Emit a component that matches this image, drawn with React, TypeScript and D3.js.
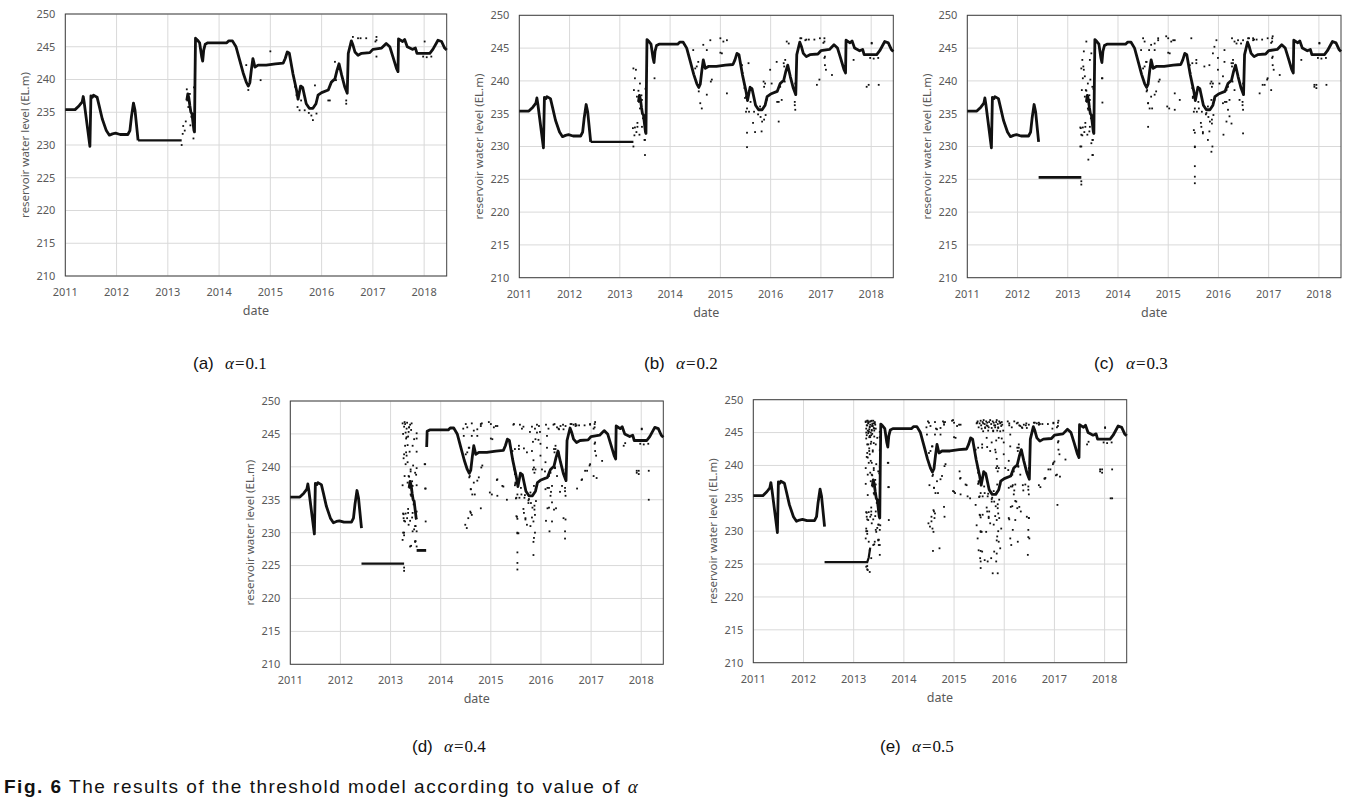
import React from 'react';
import * as d3 from 'd3';

type Pt = [number, number];

// ---------- axis ticks ----------
const yearTicks = [2011, 2012, 2013, 2014, 2015, 2016, 2017, 2018];
const levelTicks = [210, 215, 220, 225, 230, 235, 240, 245, 250];
const yearDomain: [number, number] = [2011, 2018.44];
const levelDomain: [number, number] = [210, 250];

// ---------- reservoir water level (shared trace) ----------
const earlyTrace: Pt[] = [
  [2011.0, 235.4], [2011.19, 235.4], [2011.27, 236.0], [2011.33, 236.6], [2011.35, 237.4],
  [2011.37, 236.4], [2011.48, 229.8], [2011.5, 237.5], [2011.53, 237.3], [2011.55, 237.6],
  [2011.62, 237.3], [2011.66, 236.0], [2011.72, 234.0], [2011.8, 232.2], [2011.86, 231.5],
  [2011.92, 231.7], [2011.98, 231.8], [2012.07, 231.6], [2012.22, 231.6], [2012.26, 232.2],
  [2012.29, 234.3], [2012.33, 236.4], [2012.36, 235.3], [2012.42, 230.7],
];
const flatHigh: Pt[] = [[2012.42, 230.7], [2013.27, 230.7]];
const flatLow: Pt[] = [[2012.42, 225.3], [2013.27, 225.3]];
const flatLowRise: Pt[] = [[2012.42, 225.3], [2013.27, 225.3], [2013.3, 226.0], [2013.33, 227.5]];
const surgeHead: Pt[] = [
  [2013.37, 236.8], [2013.39, 237.8], [2013.41, 237.2], [2013.43, 236.0], [2013.45, 235.0],
  [2013.47, 234.8], [2013.49, 233.5], [2013.51, 232.2], [2013.52, 232.0],
];
const surgePeak: Pt[] = [
  [2013.53, 240.0], [2013.54, 246.3], [2013.58, 246.0], [2013.62, 245.6], [2013.66, 243.5],
  [2013.68, 242.8], [2013.7, 244.5],
];
const restartD: Pt[] = [[2013.72, 243.0]];
const plateau227: Pt[] = [[2013.52, 227.3], [2013.71, 227.3]];
const lateTrace: Pt[] = [
  [2013.73, 245.4], [2013.78, 245.6], [2014.15, 245.6], [2014.19, 245.9], [2014.26, 245.9],
  [2014.33, 245.0], [2014.4, 243.0], [2014.47, 241.0], [2014.53, 239.6], [2014.57, 239.0],
  [2014.6, 239.5], [2014.63, 241.5], [2014.66, 243.2], [2014.7, 241.9], [2014.76, 242.2],
  [2014.92, 242.2], [2015.1, 242.4], [2015.25, 242.5], [2015.29, 243.2], [2015.33, 244.2],
  [2015.37, 244.0], [2015.44, 240.9], [2015.51, 238.4], [2015.54, 237.0], [2015.59, 239.0],
  [2015.63, 238.8], [2015.7, 236.3], [2015.76, 235.6], [2015.83, 235.6], [2015.89, 236.3],
  [2015.93, 237.6], [2016.0, 238.0], [2016.13, 238.4], [2016.19, 239.6], [2016.26, 240.1],
  [2016.3, 241.4], [2016.34, 242.4], [2016.39, 240.7], [2016.45, 238.9], [2016.5, 237.9],
  [2016.52, 244.0], [2016.58, 245.9], [2016.61, 245.3], [2016.65, 244.2], [2016.71, 243.7],
  [2016.78, 244.0], [2016.94, 244.1], [2017.0, 244.6], [2017.17, 244.8], [2017.26, 245.5],
  [2017.33, 245.0], [2017.39, 243.5], [2017.46, 241.7], [2017.49, 241.2], [2017.5, 246.2],
  [2017.58, 245.8], [2017.62, 246.1], [2017.67, 245.0], [2017.77, 244.6], [2017.83, 244.8],
  [2017.86, 244.0], [2018.11, 244.0], [2018.17, 244.6], [2018.27, 246.0], [2018.34, 245.8],
  [2018.4, 244.8], [2018.44, 244.5],
];

// ---------- outlier points (cumulative with alpha) ----------
const dotsA: Pt[] = [
  [2013.27, 230.0], [2013.29, 231.7], [2013.3, 232.9], [2013.33, 232.2], [2013.37, 238.5],
  [2013.38, 236.8], [2013.4, 235.8], [2013.43, 237.8], [2013.46, 234.3], [2013.5, 231.0],
  [2013.51, 238.8], [2013.35, 233.6], [2013.42, 236.5], [2013.44, 233.0],
  [2014.57, 238.4], [2014.53, 242.2], [2014.81, 239.9], [2015.0, 244.3],
  [2015.44, 241.2], [2015.48, 238.9], [2015.51, 237.6], [2015.53, 235.8], [2015.57, 235.3],
  [2015.67, 235.3], [2015.8, 234.5], [2015.83, 233.8], [2015.9, 234.8], [2015.87, 239.1],
  [2015.6, 236.8], [2015.75, 234.9],
  [2016.13, 236.8], [2016.16, 236.8], [2016.48, 236.8], [2016.48, 236.3], [2016.26, 242.7],
  [2016.28, 239.9], [2016.61, 246.5], [2016.71, 246.3], [2016.76, 246.3], [2016.87, 246.3],
  [2017.07, 246.5], [2017.07, 243.5], [2017.05, 245.8], [2017.07, 246.0],
  [2018.01, 245.8], [2017.98, 243.5], [2018.14, 243.5], [2018.05, 243.4],
];
const dotsB: Pt[] = [
  [2013.27, 241.9], [2013.3, 240.4], [2013.28, 238.6], [2013.26, 232.8], [2013.34, 237.6],
  [2013.35, 233.0], [2013.4, 239.6], [2013.44, 237.1], [2013.39, 231.8], [2013.5, 228.7],
  [2013.49, 231.0], [2013.32, 241.7], [2013.69, 240.4],
  [2014.46, 244.7], [2014.5, 241.9], [2014.56, 242.9], [2014.6, 236.6], [2014.63, 235.8],
  [2014.66, 245.5], [2014.73, 244.7], [2014.73, 237.9], [2014.8, 246.2], [2014.83, 240.2],
  [2015.0, 246.5], [2015.03, 244.2], [2015.06, 246.0], [2015.13, 246.2], [2015.13, 238.1],
  [2015.43, 242.4], [2015.47, 239.6], [2015.49, 237.4], [2015.51, 235.3], [2015.53, 232.1],
  [2015.53, 229.9], [2015.56, 242.7], [2015.59, 239.1], [2015.65, 233.6], [2015.69, 232.2],
  [2015.79, 236.1], [2015.82, 232.3], [2015.86, 239.9], [2015.87, 234.1], [2015.89, 239.6],
  [2015.92, 237.1], [2015.99, 241.7], [2016.02, 239.6], [2016.12, 242.9], [2016.16, 233.8],
  [2016.19, 239.1], [2016.22, 237.1], [2016.27, 242.2], [2016.29, 243.2], [2016.32, 246.0],
  [2016.36, 245.7], [2016.49, 235.6], [2016.49, 239.6], [2016.59, 246.5], [2016.69, 246.2],
  [2016.92, 239.4], [2016.97, 240.2], [2016.98, 246.5], [2017.08, 243.7], [2017.08, 242.4],
  [2017.1, 241.7], [2017.22, 240.9], [2017.65, 243.2],
  [2017.91, 239.1], [2017.95, 239.4], [2018.01, 245.7], [2018.15, 239.4],
];
const dotsC: Pt[] = [
  [2013.25, 230.0], [2013.25, 232.9], [2013.27, 231.8], [2013.29, 243.2], [2013.31, 242.2],
  [2013.32, 244.5], [2013.34, 240.7], [2013.36, 238.6], [2013.37, 246.0], [2013.39, 237.6],
  [2013.41, 235.6], [2013.43, 232.3], [2013.44, 243.2], [2013.45, 240.2], [2013.47, 244.2],
  [2013.49, 239.1], [2013.41, 228.0], [2013.49, 228.7], [2013.47, 230.5], [2013.27, 224.7],
  [2013.27, 224.2], [2013.68, 240.4], [2013.69, 236.7],
  [2014.5, 246.5], [2014.53, 246.0], [2014.57, 242.9], [2014.58, 238.6], [2014.6, 236.6],
  [2014.6, 233.0], [2014.62, 244.7], [2014.66, 237.6], [2014.68, 235.8], [2014.73, 245.7],
  [2014.76, 238.4], [2014.8, 246.5], [2014.96, 246.8], [2014.98, 236.1], [2015.02, 235.8],
  [2015.1, 246.2], [2015.13, 235.6], [2015.23, 237.1],
  [2015.46, 246.5], [2015.48, 242.7], [2015.49, 237.6], [2015.51, 232.5], [2015.53, 230.0],
  [2015.53, 227.0], [2015.53, 225.4], [2015.53, 224.4], [2015.56, 243.2], [2015.61, 235.8],
  [2015.66, 233.0], [2015.69, 232.0], [2015.72, 242.2], [2015.76, 235.1], [2015.79, 231.0],
  [2015.82, 242.4], [2015.84, 239.6], [2015.86, 237.1], [2015.87, 233.5], [2015.88, 230.0],
  [2015.86, 229.2], [2015.89, 244.2], [2015.92, 245.2], [2015.96, 246.2], [2015.99, 243.5],
  [2016.09, 240.7], [2016.09, 236.6], [2016.1, 231.8], [2016.12, 244.7], [2016.16, 238.6],
  [2016.19, 235.6], [2016.22, 234.6], [2016.26, 233.5], [2016.27, 246.5], [2016.29, 242.7],
  [2016.32, 238.6], [2016.35, 242.2], [2016.39, 246.2], [2016.42, 237.1], [2016.45, 245.7],
  [2016.49, 232.0], [2016.49, 246.2], [2016.69, 246.5],
  [2016.82, 238.1], [2016.88, 239.4], [2016.98, 240.4], [2017.05, 238.6], [2017.08, 246.8],
  [2017.91, 239.4], [2017.95, 238.9],
];
const dotsD: Pt[] = [
  [2013.24, 246.6], [2013.27, 246.1], [2013.29, 246.5], [2013.32, 245.8], [2013.36, 245.3],
  [2013.39, 246.4], [2013.42, 246.6], [2013.31, 244.3], [2013.34, 243.3], [2013.38, 242.3],
  [2013.28, 246.8], [2013.3, 245.2], [2013.33, 246.7], [2013.37, 246.0], [2013.41, 245.6],
  [2013.25, 245.0], [2013.35, 244.6],
  [2013.26, 241.3], [2013.4, 239.3], [2013.24, 237.2], [2013.26, 232.2], [2013.27, 229.6],
  [2013.24, 228.9], [2013.36, 231.2], [2013.39, 227.9], [2013.44, 230.2], [2013.49, 228.6],
  [2013.52, 230.2], [2013.52, 233.2], [2013.52, 237.2], [2013.52, 239.8], [2013.52, 242.3],
  [2013.52, 244.3], [2013.52, 245.1], [2013.52, 227.9], [2013.7, 236.7], [2013.7, 231.7],
  [2014.45, 245.8], [2014.49, 231.2], [2014.52, 230.7], [2014.55, 232.2], [2014.59, 233.2],
  [2014.62, 232.7], [2014.62, 246.6], [2014.8, 233.7], [2014.82, 246.6], [2015.12, 238.0],
  [2015.25, 237.0], [2015.32, 235.0],
  [2015.45, 246.4], [2015.48, 237.2], [2015.5, 235.2], [2015.52, 232.4], [2015.55, 229.9],
  [2015.58, 246.4], [2015.62, 245.8], [2015.65, 246.1], [2015.66, 242.8], [2015.68, 235.7],
  [2015.72, 231.2], [2015.75, 234.5], [2015.78, 245.3], [2015.82, 246.1], [2015.84, 243.8],
  [2015.85, 241.0], [2015.85, 231.7], [2015.85, 228.6], [2015.85, 226.6], [2015.88, 245.8],
  [2015.88, 232.7], [2015.92, 246.4], [2015.95, 244.1], [2015.98, 245.3], [2016.08, 239.3],
  [2016.1, 246.4], [2016.13, 233.7], [2016.15, 245.8], [2016.17, 230.2], [2016.2, 236.2],
  [2016.22, 231.7], [2016.25, 246.4], [2016.28, 239.8], [2016.3, 233.7], [2016.35, 245.8],
  [2016.38, 236.2], [2016.44, 246.4], [2016.45, 232.2], [2016.48, 229.1], [2016.48, 230.2],
  [2016.65, 246.4], [2016.72, 236.7],
  [2016.81, 238.0], [2016.98, 246.4], [2017.11, 238.3], [2017.68, 243.6], [2018.15, 235.0],
];
const dotsE: Pt[] = [
  [2013.25, 224.6], [2013.28, 224.1], [2013.32, 223.8], [2013.35, 225.9], [2013.32, 227.1],
  [2013.24, 246.7], [2013.26, 246.1], [2013.29, 246.4], [2013.32, 245.9], [2013.34, 246.7],
  [2013.37, 246.3], [2013.4, 245.7], [2013.42, 246.4], [2013.3, 245.1], [2013.25, 244.1],
  [2013.25, 245.6], [2013.27, 246.8], [2013.28, 245.3], [2013.3, 246.6], [2013.31, 245.5],
  [2013.33, 246.2], [2013.34, 245.0], [2013.36, 246.8], [2013.36, 245.4], [2013.38, 246.0],
  [2013.39, 246.8], [2013.41, 245.3], [2013.43, 246.2], [2013.44, 245.6], [2013.26, 244.6],
  [2013.29, 244.9], [2013.33, 244.3], [2013.37, 244.8], [2013.41, 244.4], [2013.27, 243.2],
  [2013.31, 242.6], [2013.4, 243.4], [2013.28, 241.2], [2013.36, 240.4], [2013.33, 238.9],
  [2013.35, 243.6], [2013.38, 242.1], [2013.24, 239.6], [2013.28, 235.5], [2013.35, 232.5],
  [2013.25, 230.4], [2013.3, 228.4], [2013.42, 228.4], [2013.45, 229.9], [2013.5, 227.9],
  [2013.52, 226.4], [2013.53, 230.9],
  [2014.48, 246.7], [2014.51, 237.0], [2014.55, 231.5], [2014.57, 230.4], [2014.59, 229.9],
  [2014.61, 232.0], [2014.58, 227.0], [2014.64, 245.6], [2014.71, 227.4], [2014.78, 246.7],
  [2014.81, 232.2], [2014.98, 246.9], [2015.0, 236.0], [2015.11, 239.1], [2015.27, 235.3],
  [2015.47, 246.7], [2015.51, 246.4], [2015.54, 246.1], [2015.57, 246.6], [2015.61, 246.3],
  [2015.64, 246.7], [2015.67, 246.0], [2015.7, 246.6], [2015.74, 246.3], [2015.77, 246.7],
  [2015.8, 246.1], [2015.84, 246.6], [2015.87, 246.3], [2015.9, 246.7], [2015.94, 246.0],
  [2015.49, 245.8], [2015.53, 246.8], [2015.55, 245.6], [2015.59, 246.9], [2015.62, 245.7],
  [2015.66, 246.5], [2015.69, 245.8], [2015.72, 246.9], [2015.75, 245.7], [2015.79, 246.5],
  [2015.82, 245.8], [2015.85, 246.9], [2015.88, 245.7], [2015.92, 246.5], [2015.95, 246.6],
  [2015.58, 245.2], [2015.68, 245.3], [2015.78, 245.2], [2015.86, 245.3], [2015.65, 244.2],
  [2015.75, 243.5], [2015.83, 242.0],
  [2015.43, 234.0], [2015.45, 230.9], [2015.47, 228.9], [2015.49, 227.1], [2015.52, 225.9],
  [2015.56, 226.9], [2015.61, 225.6], [2015.67, 225.4], [2015.74, 225.9], [2015.77, 223.6],
  [2015.8, 226.9], [2015.84, 225.4], [2015.87, 223.6], [2015.89, 228.4], [2015.92, 227.4],
  [2015.94, 230.4], [2015.57, 232.5], [2015.64, 229.9], [2015.7, 233.0], [2015.9, 232.0],
  [2016.07, 246.7], [2016.1, 246.1], [2016.09, 232.0], [2016.12, 228.9], [2016.14, 227.9],
  [2016.17, 237.0], [2016.2, 246.7], [2016.24, 234.5], [2016.27, 228.4], [2016.3, 246.1],
  [2016.33, 233.0], [2016.37, 237.0], [2016.43, 246.1], [2016.47, 226.4], [2016.49, 232.0],
  [2016.5, 228.9],
  [2016.69, 237.0], [2016.8, 238.0], [2016.96, 245.6], [2017.0, 240.6], [2017.03, 238.5],
  [2017.06, 234.0], [2018.12, 235.0],
];
const dotGroups = [dotsA, dotsB, dotsC, dotsD, dotsE];

// ---------- panel layout ----------
type PanelCfg = {
  letter: string; alpha: string; left: number; top: number; right: number; bottom: number;
  traces: Pt[][]; thin: Pt[][]; level: number; capX: number; capY: number;
};
const panels: PanelCfg[] = [
  { letter: '(a)', alpha: '0.1', left: 65.3, top: 14, right: 446.7, bottom: 276,
    traces: [earlyTrace, [...surgeHead, ...surgePeak, ...lateTrace]], thin: [flatHigh], level: 0, capX: 193, capY: 369 },
  { letter: '(b)', alpha: '0.2', left: 519.3, top: 15.3, right: 893.3, bottom: 277.7,
    traces: [earlyTrace, [...surgeHead, ...surgePeak, ...lateTrace]], thin: [flatHigh], level: 1, capX: 644, capY: 369 },
  { letter: '(c)', alpha: '0.3', left: 967.3, top: 15.3, right: 1341, bottom: 277.7,
    traces: [earlyTrace, flatLow, [...surgeHead, ...surgePeak, ...lateTrace]], thin: [], level: 2, capX: 1094, capY: 369 },
  { letter: '(d)', alpha: '0.4', left: 290.3, top: 401, right: 663.3, bottom: 664.3,
    traces: [earlyTrace, surgeHead, plateau227, [...restartD, ...lateTrace]], thin: [flatLow], level: 3, capX: 412, capY: 752 },
  { letter: '(e)', alpha: '0.5', left: 753.3, top: 399.7, right: 1126.7, bottom: 662.7,
    traces: [earlyTrace, [...surgeHead, ...surgePeak, ...lateTrace]], thin: [flatLowRise], level: 4, capX: 880, capY: 752 },
];

const tickFont = '"Noto Sans", "Open Sans", sans-serif';
const tickColor = '#595959';

function Panel({ cfg }: { cfg: PanelCfg }) {
  const x = d3.scaleLinear().domain(yearDomain).range([cfg.left, cfg.right]);
  const y = d3.scaleLinear().domain(levelDomain).range([cfg.bottom, cfg.top]);
  const line = d3.line<Pt>().x((d) => x(d[0])).y((d) => y(d[1]));
  const dots = dotGroups.slice(0, cfg.level + 1).flat();
  const midY = (cfg.top + cfg.bottom) / 2;
  return (
    <g>
      {yearTicks.map((t) => (
        <line key={'vx' + t} x1={x(t)} x2={x(t)} y1={cfg.top} y2={cfg.bottom} stroke="#d9d9d9" strokeWidth={1} />
      ))}
      {levelTicks.map((t) => (
        <line key={'hy' + t} x1={cfg.left} x2={cfg.right} y1={y(t)} y2={y(t)} stroke="#d9d9d9" strokeWidth={1} />
      ))}
      <rect x={cfg.left} y={cfg.top} width={cfg.right - cfg.left} height={cfg.bottom - cfg.top}
        fill="none" stroke="#404040" strokeWidth={1} />
      {cfg.thin.map((s, i) => (
        <path key={'t' + i} d={line(s) || ''} fill="none" stroke="#111" strokeWidth={2.2} />
      ))}
      {cfg.traces.map((s, i) => (
        <path key={'s' + i} d={line(s) || ''} fill="none" stroke="#111" strokeWidth={2.8} strokeLinejoin="round" />
      ))}
      {dots.map((d, i) => (
        <rect key={'d' + i} x={x(d[0]) - 0.9} y={y(d[1]) - 0.9} width={1.8} height={1.8} fill="#111" />
      ))}
      {levelTicks.map((t) => (
        <text key={'yl' + t} x={cfg.left - 10} y={y(t)} dy="0.35em" textAnchor="end"
          fontFamily={tickFont} fontSize={11} fill={tickColor}>{t}</text>
      ))}
      {yearTicks.map((t) => (
        <text key={'xl' + t} x={x(t)} y={cfg.bottom + 20} textAnchor="middle"
          fontFamily={tickFont} fontSize={11} fill={tickColor}>{t}</text>
      ))}
      <text x={(cfg.left + cfg.right) / 2} y={cfg.bottom + 39} textAnchor="middle"
        fontFamily={tickFont} fontSize={12.5} fill={tickColor}>date</text>
      <text transform={`translate(${cfg.left - 40},${midY}) rotate(-90)`} textAnchor="middle" dy="0.35em"
        fontFamily={tickFont} fontSize={11.5} fill={tickColor}>reservoir water level (EL.m)</text>
      <text x={cfg.capX} y={cfg.capY} fontFamily='"Liberation Sans", Arial, sans-serif' fontSize={17} fill="#111">{cfg.letter}</text>
      <text x={cfg.capX + 32} y={cfg.capY} fontFamily='"Liberation Serif", "DejaVu Serif", serif' fontSize={17} fill="#111">
        <tspan fontStyle="italic">α</tspan>
        <tspan dx={1}>=</tspan>
        <tspan dx={1}>{cfg.alpha}</tspan>
      </text>
    </g>
  );
}

export default function App() {
  return (
    <svg width={1362} height={802} style={{ position: 'absolute', left: 0, top: 0, background: '#fff' }}>
      <rect x={0} y={0} width={1362} height={802} fill="#fff" />
      {panels.map((p) => (
        <Panel key={p.letter} cfg={p} />
      ))}
      <text x={4} y={793} fontFamily='"Liberation Sans", Arial, sans-serif' fontSize={19} fill="#111" letterSpacing={1.5}>
        <tspan fontWeight="bold">Fig. 6</tspan>
        <tspan> The results of the threshold model according to value of </tspan>
        <tspan fontFamily='"Liberation Serif", serif' fontStyle="italic">α</tspan>
      </text>
    </svg>
  );
}
